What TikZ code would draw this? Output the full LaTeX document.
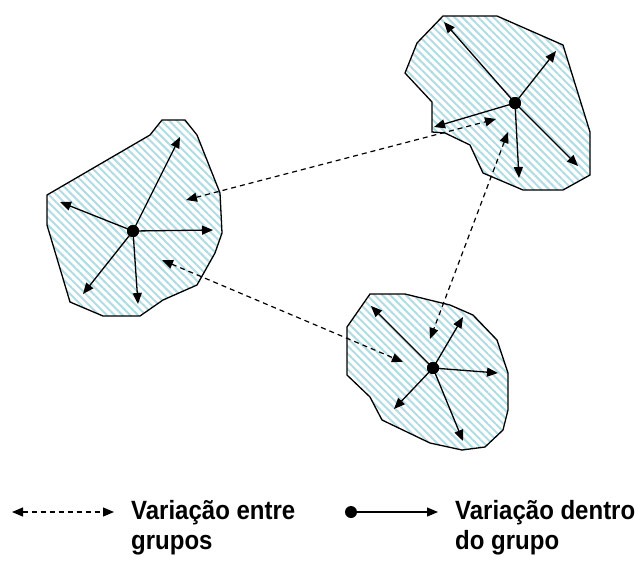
\documentclass[tikz,border=0pt]{standalone}
\usepackage{fontspec}
\usepackage{graphicx}
\setmainfont{Liberation Sans}
\usetikzlibrary{arrows.meta,patterns.meta}
\definecolor{hatchblue}{RGB}{178,220,228}
\newcommand{\legendlines}[2]{\scalebox{1}[1.1]{\begin{tabular}{@{}l@{}}#1\\#2\end{tabular}}}
\tikzset{
  blob/.style={draw=black, line width=1.3pt,
    preaction={fill=white},
    pattern={Lines[angle=-45,distance=5.5pt,line width=2pt]},
    pattern color=hatchblue},
  within/.style={line width=1.3pt, -{Triangle[length=11pt,width=9pt]}},
  between/.style={line width=1.2pt, dash pattern=on 5pt off 4pt,
    {Triangle[length=11pt,width=9pt]}-{Triangle[length=11pt,width=9pt]}},
  hub/.style={circle, fill=black, inner sep=0pt, minimum size=12pt},
  legendtext/.style={anchor=north west, inner sep=0pt,
    font=\bfseries\fontsize{24}{27}\selectfont}
}
\begin{document}
\begin{tikzpicture}[x=1pt,y=-1pt]
\useasboundingbox (0,0) rectangle (641,566);

% group outlines
\draw[blob] (47,195) -- (47,225) -- (70,302) -- (103,316) -- (140,316) -- (163,300)
  -- (197,285) -- (215,253) -- (222,233) -- (220,193) -- (197,135) -- (185,120)
  -- (162,120) -- (150,135) -- cycle;
\draw[blob] (443,16) -- (497,16) -- (563,45) -- (590,132) -- (590,175) -- (563,190)
  -- (523,190) -- (483,173) -- (470,145) -- (445,133) -- (432,132) -- (432,102)
  -- (405,73) -- (417,43) -- cycle;
\draw[blob] (370,294) -- (405,294) -- (450,305) -- (473,315) -- (497,340) -- (508,373)
  -- (508,410) -- (503,430) -- (485,447) -- (462,450) -- (430,443) -- (382,420)
  -- (370,397) -- (347,375) -- (347,327) -- cycle;

% group centres
\node[hub] (cl) at (133,231) {};
\node[hub] (ct) at (515,103) {};
\node[hub] (cb) at (433,368) {};

% within-group arrow tips
\coordinate (l1) at (180,137);
\coordinate (l2) at (60,202);
\coordinate (l3) at (213,230);
\coordinate (l4) at (83,294);
\coordinate (l5) at (138,304);
\coordinate (t1) at (444,22);
\coordinate (t2) at (556,51);
\coordinate (t3) at (578,166);
\coordinate (t4) at (519,178);
\coordinate (t5) at (434,127);
\coordinate (b1) at (371,306);
\coordinate (b2) at (463,317);
\coordinate (b3) at (498,373);
\coordinate (b4) at (394,409);
\coordinate (b5) at (463,441);

\foreach \t in {l1,l2,l3,l4,l5} \draw[within] (cl.center) -- (\t);
\foreach \t in {t1,t2,t3,t4,t5} \draw[within] (ct.center) -- (\t);
\foreach \t in {b1,b2,b3,b4,b5} \draw[within] (cb.center) -- (\t);
\node[hub] at (cl) {};
\node[hub] at (ct) {};
\node[hub] at (cb) {};

% between-group arrow ends
\coordinate (lt) at (186,200);
\coordinate (tl) at (496,119);
\coordinate (lb) at (162,260);
\coordinate (bl) at (403,362);
\coordinate (tb) at (508,132);
\coordinate (bt) at (430,339);
\draw[between] (lt) -- (tl);
\draw[between] (lb) -- (bl);
\draw[between] (tb) -- (bt);

% legend
\coordinate (k1a) at (12,512);
\coordinate (k1b) at (114,512);
\draw[between] (k1a) -- (k1b);
\node[legendtext] (k1t) at (131,499) {\legendlines{Variação entre}{grupos}};
\node[hub] (k2a) at (351,512) {};
\coordinate (k2b) at (438,512);
\draw[within] (k2a.center) -- (k2b);
\node[legendtext] (k2t) at (455,499) {\legendlines{Variação dentro}{do grupo}};
\end{tikzpicture}
\end{document}
